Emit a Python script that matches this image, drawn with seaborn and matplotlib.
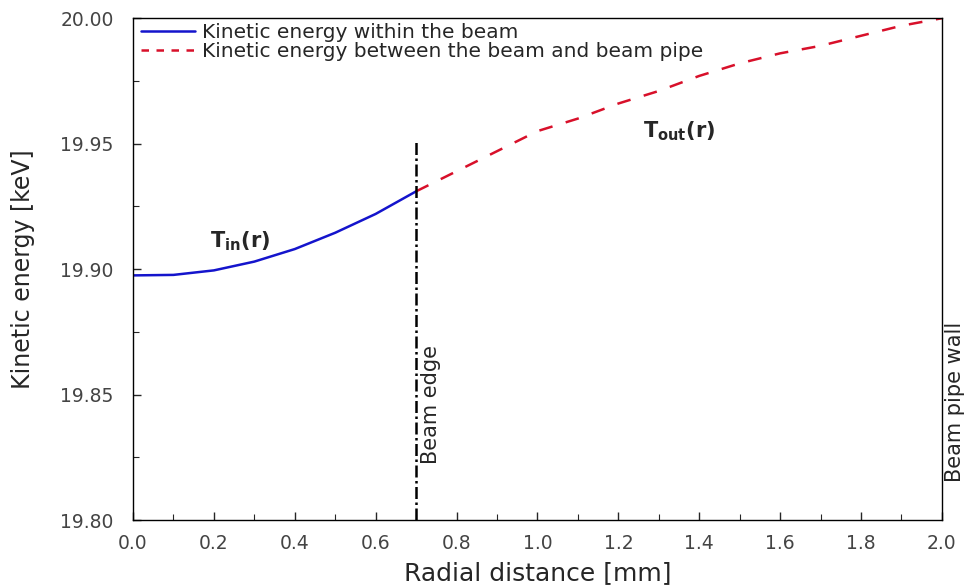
import numpy as np
import pandas as pd
import matplotlib
matplotlib.use("Agg")
import matplotlib.pyplot as plt
import seaborn as sns
from matplotlib.ticker import MultipleLocator

# Data
r_in = [0.0, 0.1, 0.2, 0.3, 0.4, 0.5, 0.6, 0.7]
t_in = [19.8975, 19.8977, 19.8995, 19.9030, 19.9080, 19.9145, 19.9220, 19.9310]
r_out = [0.7, 0.8, 0.9, 1.0, 1.1, 1.2, 1.3, 1.4, 1.5, 1.6, 1.7, 1.8, 1.9, 2.0]
t_out = [19.931, 19.939, 19.947, 19.955, 19.960, 19.966, 19.971, 19.977,
         19.982, 19.986, 19.989, 19.993, 19.997, 20.000]
label_in = "Kinetic energy within the beam"
label_out = "Kinetic energy between the beam and beam pipe"
beam_edge = 0.7
beam_edge_top = 19.951
x_ticks = [0.0, 0.2, 0.4, 0.6, 0.8, 1.0, 1.2, 1.4, 1.6, 1.8, 2.0]
y_ticks = [19.80, 19.85, 19.90, 19.95, 20.00]

sns.set_theme(style="ticks")
plt.rcParams["font.family"] = ["DejaVu Sans"]
plt.rcParams["mathtext.fontset"] = "dejavusans"

df_in = pd.DataFrame({"r": r_in, "T": t_in})
df_out = pd.DataFrame({"r": r_out, "T": t_out})

fig = plt.figure(figsize=(9.66, 5.88), dpi=100)
ax = fig.add_axes([0.1377, 0.1156, 0.8373, 0.8534])

sns.lineplot(data=df_in, x="r", y="T", ax=ax, color="#1414cc", lw=1.8, label=label_in)
sns.lineplot(data=df_out, x="r", y="T", ax=ax, color="#d8102a", lw=1.8,
             label=label_out)
ax.lines[-1].set_dashes([5.5, 5.5])

ax.plot([beam_edge, beam_edge], [19.80, beam_edge_top], color="black", lw=1.8,
        dashes=[4.8, 1.4, 1.0, 1.4])

ax.set_xlim(0.0, 2.0)
ax.set_ylim(19.80, 20.00)
ax.set_xticks(x_ticks)
ax.set_yticks(y_ticks)
ax.set_xticklabels([f"{v:.1f}" for v in x_ticks])
ax.set_yticklabels([f"{v:.2f}" for v in y_ticks])
ax.xaxis.set_minor_locator(MultipleLocator(0.1))
ax.yaxis.set_minor_locator(MultipleLocator(0.025))
ax.tick_params(axis="both", which="major", direction="in", length=6, width=1,
               labelsize=13.5, labelcolor="#444444")
ax.tick_params(axis="x", which="major", pad=10)
ax.tick_params(axis="y", which="major", pad=14)
ax.tick_params(axis="both", which="minor", direction="in", length=4, width=0.8)
for s in ax.spines.values():
    s.set_visible(True)
    s.set_linewidth(1.0)
    s.set_color("black")

ax.set_xlabel("Radial distance [mm]", fontsize=18, labelpad=6)
ax.set_ylabel("Kinetic energy [keV]", fontsize=17, labelpad=18)

ax.text(0.265, 19.911, r"$\mathbf{T_{in}(r)}$", fontsize=15, ha="center", va="center")
ax.text(1.35, 19.955, r"$\mathbf{T_{out}(r)}$", fontsize=15, ha="center", va="center")
ax.text(0.737, 19.846, "Beam edge", rotation=90, fontsize=15, ha="center", va="center")
ax.text(2.033, 19.847, "Beam pipe wall", rotation=90, fontsize=15, ha="center",
        va="center", clip_on=False)

leg = ax.legend(loc="upper left", bbox_to_anchor=(0.01, 0.99), frameon=False,
                fontsize=14.5, handlelength=2.7, borderpad=0.0, borderaxespad=0.0,
                labelspacing=0.0, handletextpad=0.3)
leg.get_lines()[1].set_dashes([3, 3])

fig.savefig("out.png", dpi=100)
